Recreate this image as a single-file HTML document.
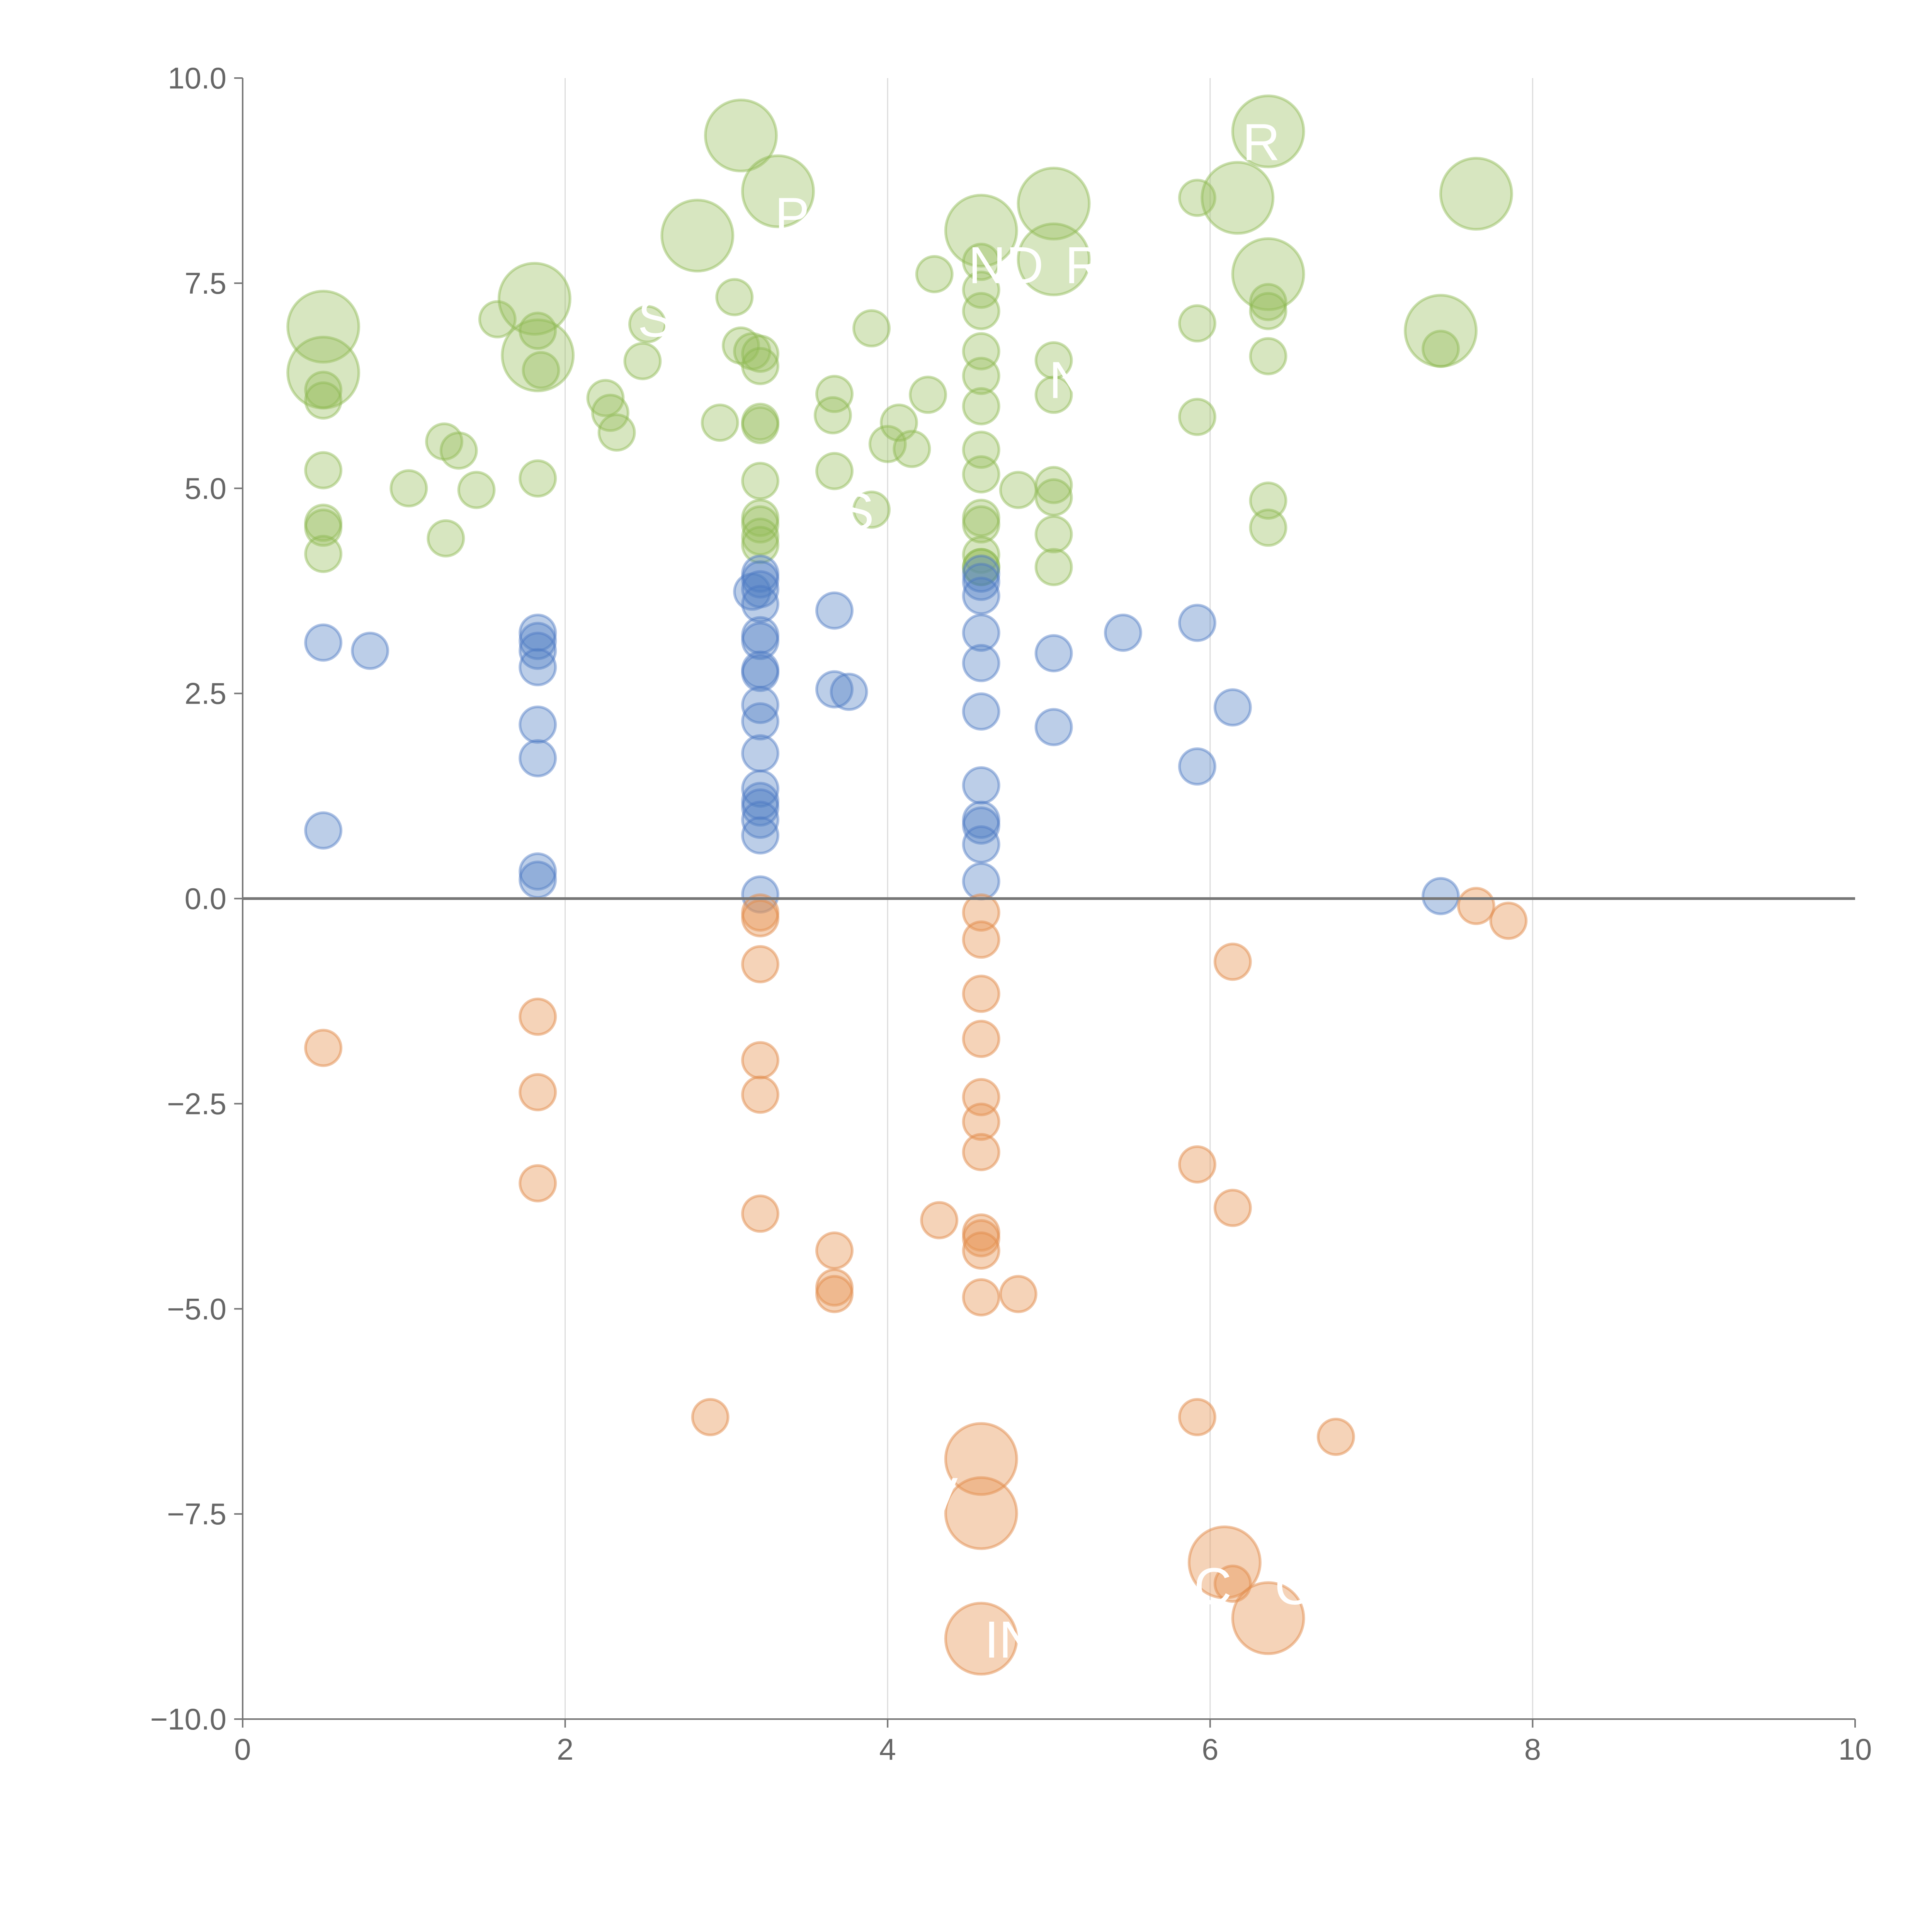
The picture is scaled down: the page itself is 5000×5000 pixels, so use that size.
<!DOCTYPE html>
<html><head><meta charset="utf-8"><style>
html,body{margin:0;padding:0;background:#fff}
svg{display:block}
text{font-family:"Liberation Sans",Arial,sans-serif}
</style></head><body>
<svg id="chart" width="5000" height="5000" viewBox="0 0 5000 5000" xmlns="http://www.w3.org/2000/svg">
<g id="grid"></g>
<g id="marks"></g>
<g id="labels"></g>
<g id="axes"></g>
</svg>
<script>
const xs=[0.5,0.5,0.5,0.5,0.5,0.5,0.5,0.5,1.03,1.25,1.34,1.26,1.45,1.58,1.81,1.83,1.83,1.85,1.83,2.25,2.28,2.32,2.48,2.51,2.82,2.96,3.05,3.09,3.09,3.16,
3.21,3.21,3.21,3.21,3.21,3.21,3.21,3.21,3.21,3.32,3.67,3.66,3.67,3.9,3.9,4.0,4.07,4.15,4.25,4.29,4.58,
4.58,4.58,4.58,4.58,4.58,4.58,4.58,4.58,4.58,4.58,4.58,4.58,4.81,5.03,5.03,5.03,5.03,5.03,5.03,5.03,5.03,5.92,5.92,5.92,6.17,6.36,6.36,6.36,6.36,6.36,6.36,6.36,7.43,7.43,7.65,
0.5,0.5,0.79,1.83,1.83,1.83,1.83,1.83,1.83,1.83,1.83,3.16,
3.21,3.21,3.21,3.21,3.21,3.21,3.21,3.21,3.21,3.21,3.21,3.21,3.21,3.21,3.21,3.21,3.21,3.67,3.67,3.76,
4.58,4.58,4.58,4.58,4.58,4.58,4.58,4.58,4.58,4.58,4.58,4.58,5.03,5.03,5.46,5.92,5.92,6.14,7.43,
0.5,1.83,1.83,1.83,2.9,3.21,3.21,3.21,3.21,3.21,3.21,3.67,3.67,3.67,4.32,
4.58,4.58,4.58,4.58,4.58,4.58,4.58,4.58,4.58,4.58,4.58,4.58,4.58,4.58,4.81,5.92,5.92,6.14,6.14,6.09,6.14,6.36,6.78,7.65,7.85];
const ys=[6.97,6.41,6.2,6.07,5.22,4.58,4.52,4.2,5.0,5.57,5.46,4.39,4.98,7.06,7.31,6.62,6.92,6.44,5.12,6.1,5.92,5.68,6.55,7.0,8.08,5.8,7.33,9.3,6.74,6.67,
6.64,6.49,5.81,5.77,5.09,4.64,4.56,4.41,4.31,8.62,6.15,5.89,5.21,6.95,4.74,5.54,5.8,5.48,6.14,7.61,8.14,
7.76,7.42,7.16,6.67,6.37,6.0,5.47,5.17,4.64,4.56,4.19,4.04,4.98,8.47,7.79,6.56,6.14,5.04,4.89,4.44,4.04,8.54,7.01,5.87,8.54,9.35,7.61,7.27,7.16,6.61,4.85,4.52,6.92,6.7,8.59,
3.12,0.83,3.02,3.24,3.14,3.02,2.82,2.12,1.71,0.33,0.23,3.74,
3.96,3.89,3.77,3.59,3.21,3.14,2.79,2.75,2.36,2.16,1.77,1.34,1.19,1.11,0.96,0.77,0.05,3.51,2.55,2.52,
4.04,3.96,3.86,3.69,3.24,2.87,2.28,1.38,0.96,0.89,0.66,0.21,2.99,2.09,3.24,3.36,1.61,2.33,0.03,
-1.82,-1.44,-2.36,-3.47,-6.32,-0.17,-0.24,-0.8,-1.97,-2.39,-3.84,-4.29,-4.74,-4.82,-3.92,
-0.17,-0.5,-1.16,-1.71,-2.42,-2.72,-3.09,-4.07,-4.14,-4.29,-4.86,-6.83,-7.49,-9.02,-4.82,-3.24,-6.32,-0.77,-3.77,-8.09,-8.35,-8.77,-6.56,-0.09,-0.27];
const bigIdx=[0,1,14,15,24,27,39,50,64,65,75,76,77,83,85,163,164,165,171,173];
const xTicks=[0,2,4,6,8,10];
const yTicks=[10.0,7.5,5.0,2.5,0.0,-2.5,-5.0,-7.5,-10.0];
const labelTexts=["R","IN","V","C","C","P","N","S","ND","R","S"];
const labelX=[6.2,4.6,4.22,5.9,6.4,3.3,5.0,3.7,4.5,5.1,2.45];
const labelY=[9.0,-9.25,-7.5,-8.6,-8.6,8.1,6.1,4.5,7.5,7.5,6.85];

const NS="http://www.w3.org/2000/svg";
const X0=628,X1=4801,Y0=4449,Y1=202;
const sx=v=>X0+(v-0)/10*(X1-X0);
const sy=v=>Y0-(v+10)/20*(Y0-Y1);
function mk(tag,attrs,parent){const e=document.createElementNS(NS,tag);for(const k in attrs)e.setAttribute(k,attrs[k]);parent.appendChild(e);return e;}
const grid=document.getElementById('grid'),marks=document.getElementById('marks'),axes=document.getElementById('axes'),labels=document.getElementById('labels');
for(const t of xTicks){if(t===0||t===10)continue;
 const l=mk('line',{x1:sx(t),x2:sx(t),y1:Y1,y2:Y0,stroke:'#dcdcdc','stroke-width':3},grid);
 
 }
for(let i=0;i<xs.length;i++){
 const y=ys[i];let fill,stroke;
 if(y>=4){fill='rgba(150,190,90,0.38)';stroke='rgba(140,185,80,0.45)';}
 else if(y>=0){fill='rgba(80,125,195,0.38)';stroke='rgba(75,120,195,0.45)';}
 else{fill='rgba(230,150,85,0.42)';stroke='rgba(225,140,75,0.5)';}
 const r=bigIdx.includes(i)?92:46;
 const c=mk('circle',{cx:sx(xs[i]),cy:sy(y),r:r,fill:fill,stroke:stroke,'stroke-width':7},marks);
 
 
}
for(let i=0;i<labelTexts.length;i++){
 const t=mk('text',{x:sx(labelX[i]),y:sy(labelY[i]),fill:'#fff','font-size':135},labels);
 t.textContent=labelTexts[i];
 
 
}
const zl=mk('line',{x1:X0,x2:X1,y1:sy(0),y2:sy(0),stroke:'#777','stroke-width':7},axes);


const ya=mk('line',{x1:X0,x2:X0,y1:Y1,y2:Y0,stroke:'#777','stroke-width':4},axes);


const xa=mk('line',{x1:X0,x2:X1,y1:Y0,y2:Y0,stroke:'#777','stroke-width':4},axes);


for(const t of xTicks){
 const tk=mk('line',{x1:sx(t),x2:sx(t),y1:Y0,y2:Y0+22,stroke:'#777','stroke-width':4},axes);
 
 
 const tx=mk('text',{x:sx(t),y:Y0+105,'text-anchor':'middle','font-size':78,fill:'#666'},axes);
 tx.textContent=String(t);
 
 
}
for(const t of yTicks){
 const tk=mk('line',{x1:X0-22,x2:X0,y1:sy(t),y2:sy(t),stroke:'#777','stroke-width':4},axes);
 
 
 const tx=mk('text',{x:X0-42,y:sy(t)+27,'text-anchor':'end','font-size':78,fill:'#666'},axes);
 tx.textContent=(t<0?'\u2212'+Math.abs(t).toFixed(1):t.toFixed(1));
 
 
}
</script>
</body></html>
